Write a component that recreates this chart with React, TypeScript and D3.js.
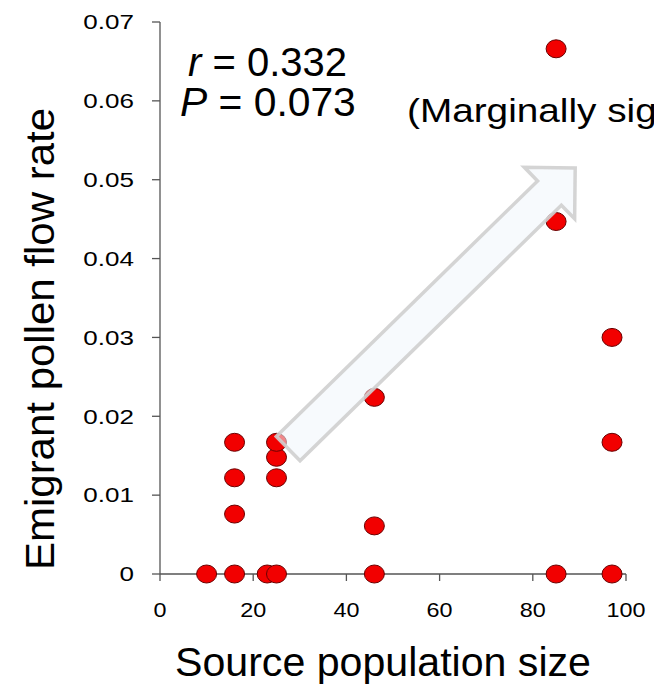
import React from 'react'
import * as d3 from 'd3'

// source population size vs emigrant pollen flow rate
const sourceSize = [10, 16, 16, 16, 16, 23, 25, 25, 25, 25, 46, 46, 46, 85, 85, 85, 97, 97, 97]
const flowRate = [0, 0, 0.0076, 0.0122, 0.0167, 0, 0, 0.0122, 0.0148, 0.0167, 0, 0.0061, 0.0224, 0, 0.0447, 0.0666, 0, 0.0167, 0.03]

const xTicks = [0, 20, 40, 60, 80, 100]
const yTicks = [0, 0.01, 0.02, 0.03, 0.04, 0.05, 0.06, 0.07]

// trend arrow, from / to in data units
const arrowFrom = [27.5, 0.0159]
const arrowTo = [89.1, 0.0515]

const W = 654
const H = 695
const font = '"Liberation Sans", Arial, sans-serif'

// stretch a text horizontally around its anchor x
const stretch = (cx: number, k: number) => `translate(${cx},0) scale(${k},1) translate(${-cx},0)`

export default function App() {
  const x = d3.scaleLinear().domain([0, 100]).range([160, 626])
  const y = d3.scaleLinear().domain([0, 0.07]).range([574, 22])

  const pts = sourceSize.map((s, i) => ({ cx: x(s), cy: y(flowRate[i]) }))

  // arrow geometry
  const ax0 = x(arrowFrom[0]), ay0 = y(arrowFrom[1])
  const ax1 = x(arrowTo[0]), ay1 = y(arrowTo[1])
  const len = Math.hypot(ax1 - ax0, ay1 - ay0)
  const ang = (Math.atan2(ay1 - ay0, ax1 - ax0) * 180) / Math.PI
  const sw = 17, hw = 36, hl = 36
  const arrowPts: [number, number][] = [
    [0, -sw], [len - hl, -sw], [len - hl, -hw], [len, 0],
    [len - hl, hw], [len - hl, sw], [0, sw],
  ]
  const arrowPath = d3.line()(arrowPts) + 'Z'

  const axisColor = '#555'

  return (
    <svg width={W} height={H} style={{ position: 'absolute', left: 0, top: 0, background: '#fff' }}>
      {/* y axis */}
      <line x1={x(0)} x2={x(0)} y1={y(0.07)} y2={y(0)} stroke={axisColor} strokeWidth={1.3} />
      {yTicks.map(t => (
        <g key={t}>
          <line x1={x(0) - 8} x2={x(0)} y1={y(t)} y2={y(t)} stroke={axisColor} strokeWidth={1.3} />
          <text x={134} y={y(t)} dy="0.35em" textAnchor="end" fontFamily={font} fontSize={21}
            transform={stretch(134, 1.24)}>{t === 0 ? '0' : t.toFixed(2)}</text>
        </g>
      ))}
      {/* x axis */}
      <line x1={x(0)} x2={x(100)} y1={y(0)} y2={y(0)} stroke={axisColor} strokeWidth={1.3} />
      {xTicks.map(t => (
        <g key={t}>
          <line x1={x(t)} x2={x(t)} y1={y(0)} y2={y(0) + 7} stroke={axisColor} strokeWidth={1.3} />
          <text x={x(t)} y={617} textAnchor="middle" fontFamily={font} fontSize={20}
            transform={stretch(x(t), 1.17)}>{t}</text>
        </g>
      ))}

      {/* points */}
      {pts.map((p, i) => (
        <ellipse key={i} cx={p.cx} cy={p.cy} rx={10} ry={9} fill="#f20000" stroke="#6a0000" strokeWidth={1} />
      ))}

      {/* arrow */}
      <path d={arrowPath} transform={`translate(${ax0},${ay0}) rotate(${ang})`}
        fill="#f1f6fc" fillOpacity={0.55} stroke="#cfcfcf" strokeOpacity={0.9} strokeWidth={3.5} strokeLinejoin="miter" />

      {/* stats */}
      <text x={188} y={76} fontFamily={font} fontSize={40}>
        <tspan fontStyle="italic">r</tspan> = 0.332
      </text>
      <text x={180} y={116} fontFamily={font} fontSize={40} transform={stretch(180, 1.02)}>
        <tspan fontStyle="italic">P</tspan> = 0.073
      </text>
      <text x={407} y={122} fontFamily={font} fontSize={34} transform={stretch(407, 1.14)}>(Marginally significant)</text>

      {/* axis titles */}
      <text x={383} y={676} textAnchor="middle" fontFamily={font} fontSize={40} textLength={416} lengthAdjust="spacingAndGlyphs">
        Source population size
      </text>
      <text transform="translate(54,339) rotate(-90)" textAnchor="middle" fontFamily={font} fontSize={40} textLength={462} lengthAdjust="spacingAndGlyphs">
        Emigrant pollen flow rate
      </text>
    </svg>
  )
}
